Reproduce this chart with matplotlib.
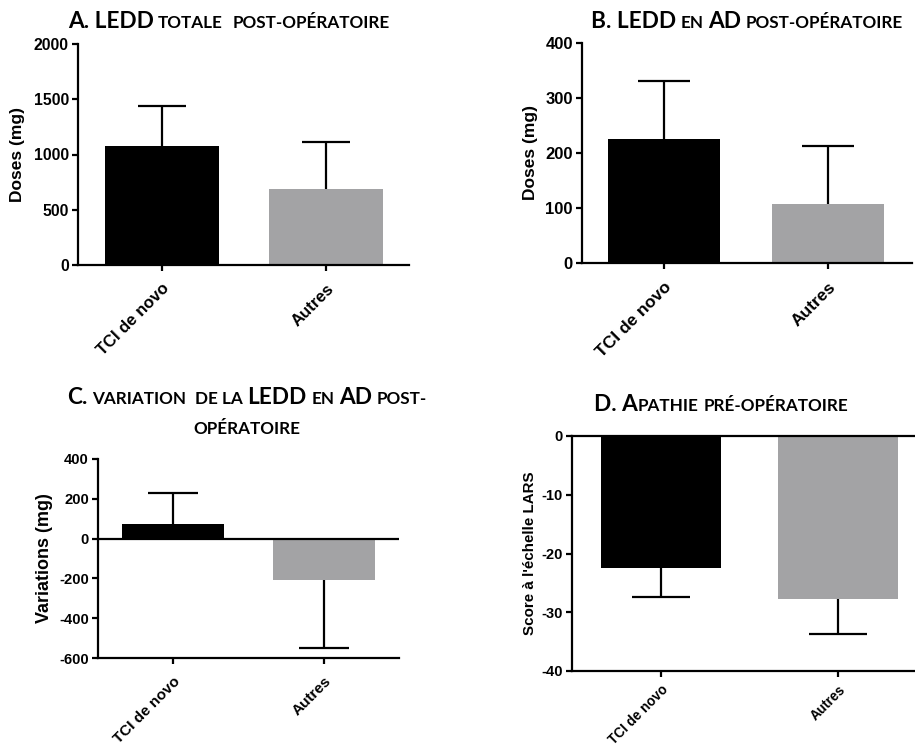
import matplotlib
matplotlib.use("Agg")
import matplotlib.pyplot as plt
import matplotlib.transforms as mtransforms

plt.rcParams['font.family'] = ['Liberation Sans', 'DejaVu Sans']
plt.rcParams['font.weight'] = 'bold'
plt.rcParams['axes.unicode_minus'] = False

# ---- data ----
groups = ["TCI de novo", "Autres"]

ledd_totale = [1077, 688]
ledd_totale_sd = [362, 425]

ledd_ad = [225, 107]
ledd_ad_sd = [106, 106]

variation_ad = [75, -206]
variation_ad_sd = [156, 342]

apathie_pre = [-22.4, -27.7]
apathie_pre_sd = [5.0, 6.0]

bar_colors = ["#000000", "#a3a3a5"]

W, H = 915, 747
LW = 1.6
fig = plt.figure(figsize=(W / 100, H / 100), dpi=100)


def axes_px(left, right, top, bottom):
    return fig.add_axes([left / W, 1 - bottom / H, (right - left) / W, (bottom - top) / H])


def style_axes(ax, tick_fs, xtick_fs, xpad=7):
    for s in ["top", "right"]:
        ax.spines[s].set_visible(False)
    for s in ["left", "bottom"]:
        ax.spines[s].set_linewidth(LW)
    ax.tick_params(axis="both", width=LW, length=4.5, labelsize=tick_fs, pad=2)
    ax.tick_params(axis="x", pad=xpad)
    ax.set_xticks(range(len(groups)))
    ax.set_xticklabels(groups, rotation=45, ha="right", va="top", rotation_mode="anchor",
                       fontsize=xtick_fs, fontweight="bold")
    for lab in ax.get_yticklabels():
        lab.set_fontweight("bold")


def draw_bars(ax, vals, errs, width, capsize):
    """Bars with a one-sided error bar pointing away from zero."""
    x = list(range(len(vals)))
    ax.bar(x, vals, width=width, color=bar_colors, zorder=2)
    for xi, v, e in zip(x, vals, errs):
        end = v + e if v >= 0 else v - e
        ax.vlines(xi, v, end, color="black", lw=LW, zorder=1)
        ax.plot([xi], [end], marker="_", markersize=2 * capsize, mew=LW,
                color="black", zorder=1)


# ---- A ----
axA = axes_px(78, 409, 44, 265)
draw_bars(axA, ledd_totale, ledd_totale_sd, 0.69, 17)
axA.set_xlim(-0.512, 1.506)
axA.set_ylim(0, 2000)
axA.set_yticks([0, 500, 1000, 1500, 2000])
style_axes(axA, 11.3, 12)
axA.set_ylabel("Doses (mg)", fontsize=12.5, fontweight="bold")
axA.yaxis.set_label_coords(-0.16, 0.5)

# ---- B ----
axB = axes_px(582, 912, 43, 263)
draw_bars(axB, ledd_ad, ledd_ad_sd, 0.68, 19)
axB.set_xlim(-0.5, 1.512)
axB.set_ylim(0, 400)
axB.set_yticks([0, 100, 200, 300, 400])
style_axes(axB, 12, 12.5)
axB.set_ylabel("Doses (mg)", fontsize=12.5, fontweight="bold")
axB.yaxis.set_label_coords(-0.133, 0.5)

# ---- C ----
axC = axes_px(98, 399, 459, 658)
draw_bars(axC, variation_ad, variation_ad_sd, 0.68, 18)
axC.set_xlim(-0.497, 1.497)
axC.set_ylim(-600, 400)
axC.set_yticks([-600, -400, -200, 0, 200, 400])
axC.axhline(0, color="black", lw=LW, zorder=3)
style_axes(axC, 10.6, 11)
axC.set_ylabel("Variations (mg)", fontsize=13, fontweight="bold")
axC.yaxis.set_label_coords(-0.15, 0.5)

# ---- D ----
axD = axes_px(572, 915, 436, 671)
draw_bars(axD, apathie_pre, apathie_pre_sd, 0.68, 21)
axD.set_xlim(-0.503, 1.435)
axD.set_ylim(-40, 0)
axD.set_yticks([-40, -30, -20, -10, 0])
style_axes(axD, 10.5, 9.8, xpad=4)
axD.spines["top"].set_visible(True)
axD.spines["top"].set_linewidth(LW)
axD.set_ylabel("Score à l'échelle LARS", fontsize=10.9, fontweight="bold")
axD.yaxis.set_label_coords(-0.102, 0.5)

# ---- titles with small capitals ----
renderer = fig.canvas.get_renderer()
BIG, SMALL = 16.3, 12.3
TITLE_FONT = "Lato"


def rich_title(pieces, cx, y_top_px):
    """pieces: list of (text, is_big, gap_px_before)."""
    ident = mtransforms.IdentityTransform()
    texts = []
    for txt, big, gap in pieces:
        t = fig.text(0, 0, txt, fontsize=BIG if big else SMALL, fontweight="bold",
                     family=TITLE_FONT, ha="left", va="baseline", transform=ident)
        texts.append((t, gap))
    widths = [t.get_window_extent(renderer).width for t, _ in texts]
    total = sum(widths) + sum(g for _, g in texts)
    cap_h = BIG * 0.70 * 100 / 72
    base_y = H - y_top_px - cap_h
    x = cx - total / 2
    for (t, gap), w in zip(texts, widths):
        x += gap
        t.set_position((x, base_y))
        x += w


sp = 4.5
rich_title([("A. LEDD", True, 0), ("TOTALE", False, sp), ("POST-OPÉRATOIRE", False, sp * 2.2)],
           229, 12)
rich_title([("B. LEDD", True, 0), ("EN", False, sp), ("AD", True, sp),
            ("POST-OPÉRATOIRE", False, sp)], 747, 12)
rich_title([("C.", True, 0), ("VARIATION", False, sp), ("DE LA", False, sp * 2),
            ("LEDD", True, sp), ("EN", False, sp), ("AD", True, sp), ("POST-", False, sp)],
           247, 388)
rich_title([("OPÉRATOIRE", False, 0)], 247, 418)
rich_title([("D. A", True, 0), ("PATHIE", False, 0), ("PRÉ-OPÉRATOIRE", False, sp)],
           721, 395)

fig.savefig("out.png", dpi=100)
